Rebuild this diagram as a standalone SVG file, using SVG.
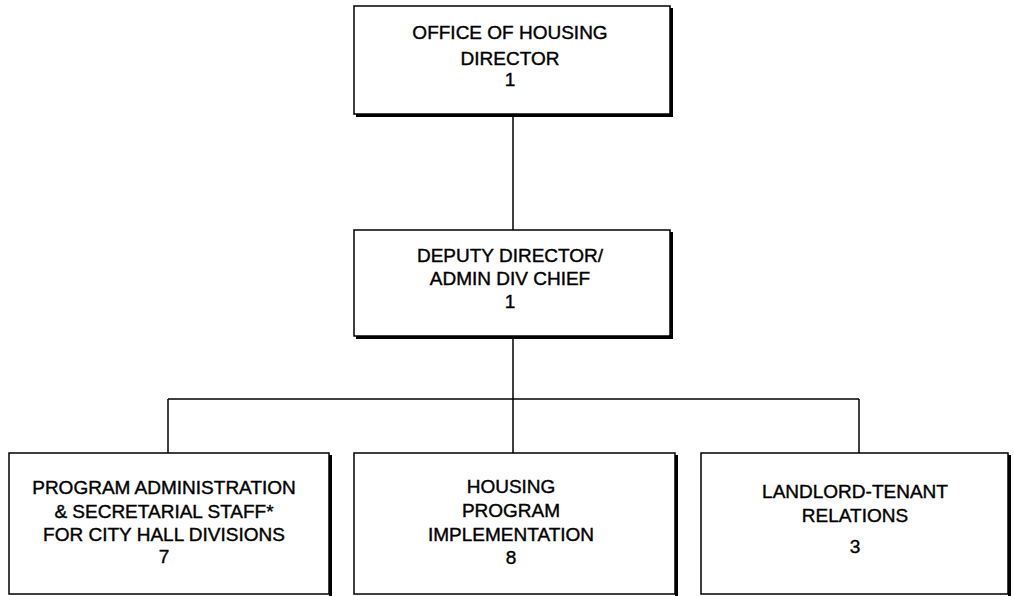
<svg xmlns="http://www.w3.org/2000/svg" width="1014" height="596" viewBox="0 0 1014 596">
<style>
.box{fill:#fff;stroke:#000;stroke-width:1.5}
.sh{fill:none;stroke:#000;stroke-width:3}
.t{font-family:"Liberation Sans",Arial,sans-serif;font-size:19px;fill:#000;stroke:#000;stroke-width:0.4;text-anchor:middle}
.c{fill:none;stroke:#000;stroke-width:1.5}
</style>
<rect width="1014" height="596" fill="#fff"/>
<g id="connectors">
<line class="c" x1="513" y1="115" x2="513" y2="230"/>
<line class="c" x1="513" y1="337" x2="513" y2="399"/>
<line class="c" x1="168" y1="399" x2="859" y2="399"/>
<line class="c" x1="168" y1="399" x2="168" y2="453"/>
<line class="c" x1="513" y1="399" x2="513" y2="453"/>
<line class="c" x1="859" y1="399" x2="859" y2="453"/>
</g>
<g id="n1">
<rect class="box" x="354" y="6" width="316" height="108"/>
<polyline class="sh" points="671.5,8 671.5,115.5 356,115.5"/>
<text class="t" x="510" y="39">OFFICE OF HOUSING</text>
<text class="t" x="510" y="65">DIRECTOR</text>
<text class="t" x="510" y="86">1</text>
</g>
<g id="n2">
<rect class="box" x="354" y="230" width="316" height="106"/>
<polyline class="sh" points="671.5,232 671.5,337.5 356,337.5"/>
<text class="t" x="510" y="262">DEPUTY DIRECTOR/</text>
<text class="t" x="510" y="285">ADMIN DIV CHIEF</text>
<text class="t" x="510" y="308">1</text>
</g>
<g id="n3">
<rect class="box" x="9" y="453" width="320" height="141"/>
<polyline class="sh" points="330.5,455 330.5,598"/>
<text class="t" x="164" y="494">PROGRAM ADMINISTRATION</text>
<text class="t" x="164" y="518">&amp; SECRETARIAL STAFF*</text>
<text class="t" x="164" y="541">FOR CITY HALL DIVISIONS</text>
<text class="t" x="164" y="563">7</text>
</g>
<g id="n4">
<rect class="box" x="354" y="453" width="321" height="141"/>
<polyline class="sh" points="676.5,455 676.5,598"/>
<text class="t" x="511" y="493">HOUSING</text>
<text class="t" x="511" y="517">PROGRAM</text>
<text class="t" x="511" y="541">IMPLEMENTATION</text>
<text class="t" x="511" y="564">8</text>
</g>
<g id="n5">
<rect class="box" x="701" y="453" width="307" height="141"/>
<polyline class="sh" points="1009.5,455 1009.5,598"/>
<text class="t" x="855" y="498">LANDLORD-TENANT</text>
<text class="t" x="855" y="522">RELATIONS</text>
<text class="t" x="855" y="553">3</text>
</g>
</svg>
